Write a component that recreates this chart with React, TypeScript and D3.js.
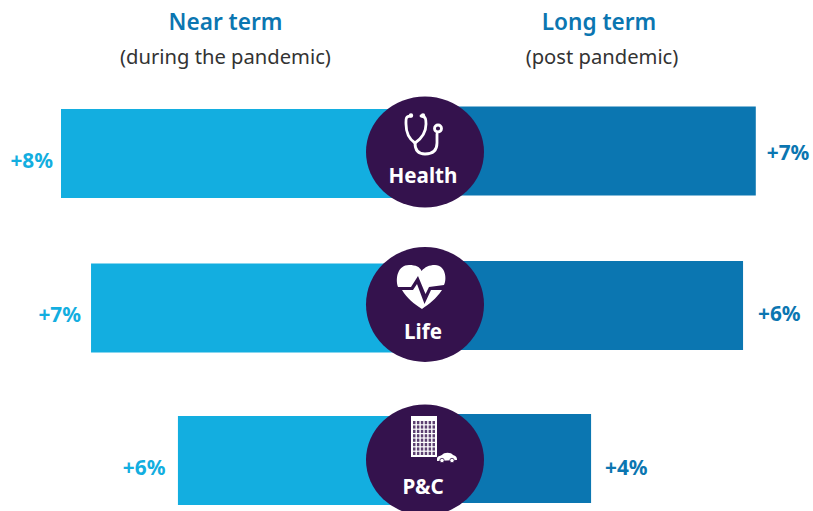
import React from "react";
import * as d3 from "d3";

const categories = ["Health", "Life", "P&C"];
const nearValues = [8.0, 7.34, 5.43];
const longValues = [7.27, 6.99, 3.65];
const nearLabels = ["+8%", "+7%", "+6%"];
const longLabels = ["+7%", "+6%", "+4%"];

const W = 813, H = 511, CX = 425;
const FONT = "'Noto Sans', 'Open Sans', sans-serif";
const LIGHT = "#13aee0", DARK = "#0b76b1", PURPLE = "#34124d";
const nearX = d3.scaleLinear().domain([0, 8]).range([CX, 61]);
const longX = d3.scaleLinear().domain([0, 8]).range([CX, CX + 364]);
const nearTop = [109, 263.5, 416];
const longTop = [106.5, 261, 414];
const barH = 89;
const circleY = [152, 304.5, 460];
const circleR: [number, number][] = [[59, 55.5], [59, 57.5], [59, 55.5]];
const labelY = [183, 339, 494];
const nearLabelY = [167.5, 322, 474.5];
const longLabelY = [159.5, 321, 474.5];
const nearGap = [8, 10, 12.5];
const longGap = [11, 15, 14];

function Stethoscope() {
  return (
    <g fill="none" stroke="#fff" strokeWidth={2.8} strokeLinecap="round">
      <path d="M411 116 C405 116 406 120 406 124 C406 134 409 139 415 143 C421 139 426 134 426 124 C426 120 426 116 421 116" />
      <path d="M415 143 C415 149 417 154 425 154 C434 154 437 149 437 143 L437 134" />
      <circle cx={438} cy={128.5} r={3.5} />
      <circle cx={411} cy={115.5} r={1.4} strokeWidth={1.6} />
      <circle cx={423} cy={115.5} r={1.4} strokeWidth={1.6} />
    </g>
  );
}

function Heart() {
  return (
    <g>
      <path fill="#fff" d="M411 287 L398 287 C395 278 398 265 409 265 C416 265 420 267 421.5 271 C425 267 429 265 435 265 C446 265 447 280 444 285 L429 287 L425.5 294 L418 276 Z" />
      <path fill="#fff" d="M402 290 L413 290 L417 284 L424.5 304 L431 290 L442 290 C436 299 429 304 422 309 C414 304 407 298 402 290 Z" />
    </g>
  );
}

function Building() {
  const cols = d3.range(6);
  const rows = d3.range(8);
  return (
    <g>
      <rect x={411} y={416} width={26} height={41} fill="#fff" />
      {cols.flatMap((c) =>
        rows.map((r) => (
          <rect key={`${c}-${r}`} x={413 + c * 3.9} y={421 + r * 4.4} width={2.5} height={3.2} fill={PURPLE} opacity={0.8} />
        ))
      )}
      <path fill="#fff" d="M437 459 C437 456 440 456 442 455 C444 452 451 452 453 455 C456 456 457 457 457 460 L437 461 Z" />
      <circle cx={442} cy={460.5} r={2.2} fill="#fff" stroke={PURPLE} strokeWidth={0.8} />
      <circle cx={452} cy={460.5} r={2.2} fill="#fff" stroke={PURPLE} strokeWidth={0.8} />
    </g>
  );
}

const icons = [<Stethoscope key="s" />, <Heart key="h" />, <Building key="b" />];

export default function App() {
  return (
    <svg width={W} height={H} viewBox={`0 0 ${W} ${H}`} style={{ position: "absolute", left: 0, top: 0, background: "#fff" }} fontFamily={FONT}>
      <text x={225.5} y={30} textAnchor="middle" fontSize={22.6} fontWeight={600} fill={DARK}>Near term</text>
      <text x={225.5} y={64} textAnchor="middle" fontSize={20.2} fill="#333">(during the pandemic)</text>
      <text x={599} y={30} textAnchor="middle" fontSize={22.6} fontWeight={600} fill={DARK}>Long term</text>
      <text x={602} y={64} textAnchor="middle" fontSize={20.2} fill="#333">(post pandemic)</text>

      {categories.map((c, i) => (
        <g key={c}>
          <rect x={nearX(nearValues[i])} y={nearTop[i]} width={CX - nearX(nearValues[i])} height={barH} fill={LIGHT} />
          <rect x={CX} y={longTop[i]} width={longX(longValues[i]) - CX} height={barH} fill={DARK} />
          <ellipse cx={CX} cy={circleY[i]} rx={circleR[i][0]} ry={circleR[i][1]} fill={PURPLE} />
          {icons[i]}
          <text x={CX - 2} y={labelY[i]} textAnchor="middle" fontSize={20.6} fontWeight={700} fill="#fff">{c}</text>
          <text x={nearX(nearValues[i]) - nearGap[i]} y={nearLabelY[i]} textAnchor="end" fontSize={20.8} fontWeight={700} fill={LIGHT}>{nearLabels[i]}</text>
          <text x={longX(longValues[i]) + longGap[i]} y={longLabelY[i]} textAnchor="start" fontSize={20.8} fontWeight={700} fill={DARK}>{longLabels[i]}</text>
        </g>
      ))}
    </svg>
  );
}
